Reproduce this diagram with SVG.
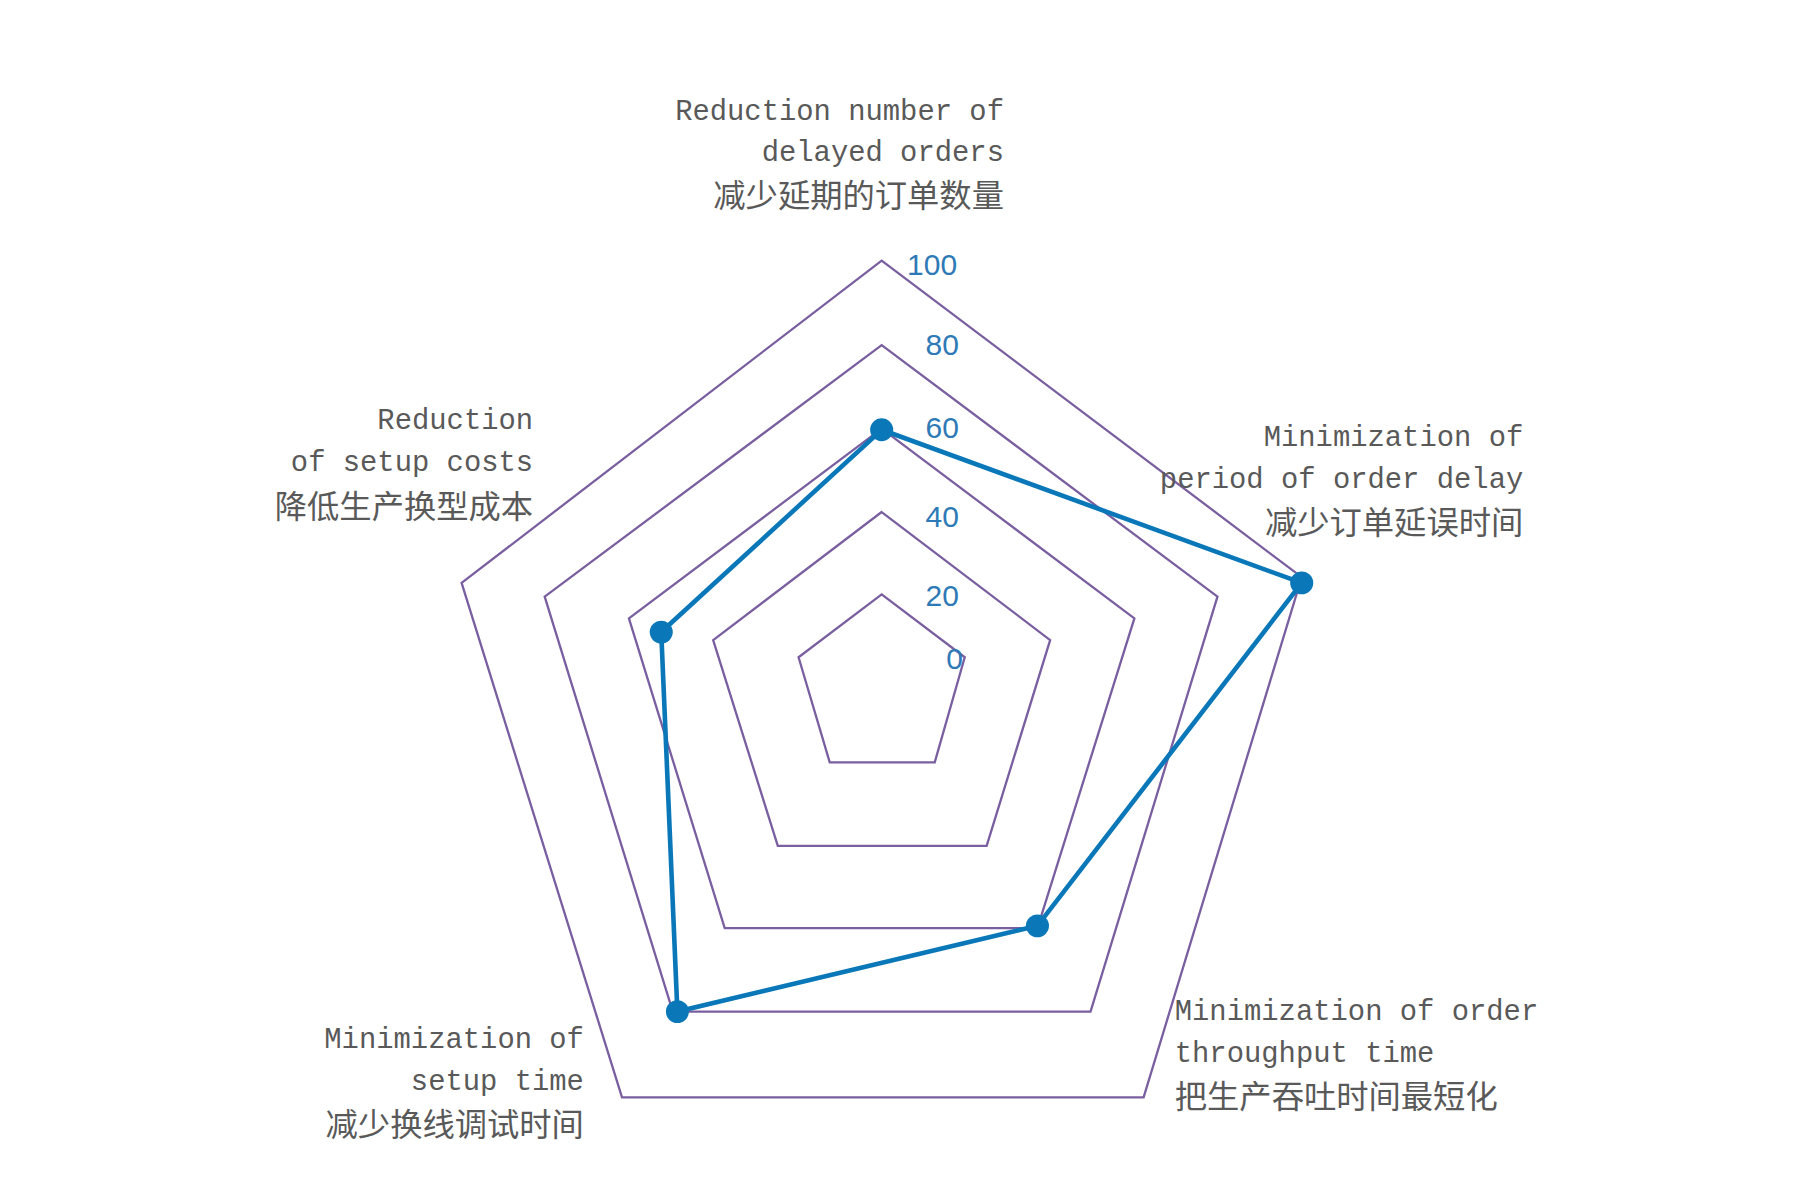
<svg xmlns="http://www.w3.org/2000/svg" width="1800" height="1200" viewBox="0 0 1800 1200">
<style>
.grid{fill:none;stroke:#7a5fa0;stroke-width:2}
.en{font-family:"Liberation Mono",monospace;font-size:25px;fill:#595959}
.cn{font-family:"Noto Sans CJK SC",sans-serif;font-size:28px;fill:#595959}
.ax{font-family:"Liberation Sans",sans-serif;font-size:26px;fill:#2e7ab6}
.data{fill:none;stroke:#0a78b8;stroke-width:4}
.dot{fill:#0a78b8}
</style>
<rect width="1800" height="1200" fill="#fff"/>
<g transform="scale(1.154,1.143)">
<g id="grid">
<polygon class="grid" points="764,228 1128,505 991,960 539,960 400,510"/>
<polygon class="grid" points="764,302 1055,522 945,885 583,885 472,522"/>
<polygon class="grid" points="764,375 983,541 899,812 628,812 545,541"/>
<polygon class="grid" points="764,448 910,560 855,740 674,740 618,560"/>
<polygon class="grid" points="764,520 836,575 810,667 719,667 692,575"/>
</g>
<g id="axis-labels">
<text class="ax" x="786" y="241">100</text>
<text class="ax" x="802" y="311">80</text>
<text class="ax" x="802" y="383">60</text>
<text class="ax" x="802" y="461">40</text>
<text class="ax" x="802" y="530">20</text>
<text class="ax" x="820" y="585">0</text>
</g>
<g id="connectors">
<polygon class="data" points="764,376 1128,510 899,810 587,885 573,553"/>
</g>
<g id="points">
<circle class="dot" cx="764" cy="376" r="10"/>
<circle class="dot" cx="1128" cy="510" r="10"/>
<circle class="dot" cx="899" cy="810" r="10"/>
<circle class="dot" cx="587" cy="885" r="10"/>
<circle class="dot" cx="573" cy="553" r="10"/>
</g>
<g id="label-top" text-anchor="end">
<text class="en" x="870" y="105">Reduction number of</text>
<text class="en" x="870" y="141">delayed orders</text>
<text class="cn" x="870" y="181">减少延期的订单数量</text>
</g>
<g id="label-right" text-anchor="end">
<text class="en" x="1320" y="390">Minimization of</text>
<text class="en" x="1320" y="427">period of order delay</text>
<text class="cn" x="1320" y="467">减少订单延误时间</text>
</g>
<g id="label-bottom-right">
<text class="en" x="1018" y="892">Minimization of order</text>
<text class="en" x="1018" y="929">throughput time</text>
<text class="cn" x="1018" y="969">把生产吞吐时间最短化</text>
</g>
<g id="label-bottom-left" text-anchor="end">
<text class="en" x="506" y="917">Minimization of</text>
<text class="en" x="506" y="954">setup time</text>
<text class="cn" x="506" y="994">减少换线调试时间</text>
</g>
<g id="label-left" text-anchor="end">
<text class="en" x="462" y="375">Reduction</text>
<text class="en" x="462" y="412">of setup costs</text>
<text class="cn" x="462" y="453">降低生产换型成本</text>
</g>
</g>
</svg>
